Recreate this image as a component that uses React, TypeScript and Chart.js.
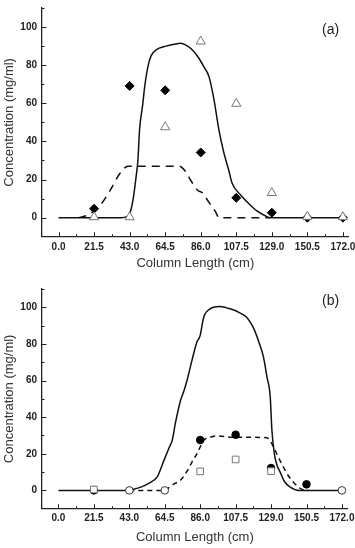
import React, { useEffect, useRef } from "react";
import { Chart, registerables } from "chart.js";
Chart.register(...registerables);

// ---- shared axis ticks ----
const xTicks = [0, 21.5, 43, 64.5, 86, 107.5, 129, 150.5, 172];
const xMinorTicks = [10.75, 32.25, 53.75, 75.25, 96.75, 118.25, 139.75, 161.25];
const yTicks = [0, 20, 40, 60, 80, 100];
const yMinorTicks = [10, 30, 50, 70, 90, 110];

// ---- panel (a) ----
const aSolidX = [0, 20, 38, 41, 43, 45, 47, 48, 49, 51, 52, 54, 56, 59, 65, 70, 74, 77, 81, 85, 88, 91, 94, 97, 100, 103, 105, 110, 115, 120, 125, 128, 150, 172];
const aSolidY = [0, 0, 0, 0.4, 2, 9, 22, 30, 46, 60, 68, 79, 85, 88, 90, 91, 91.5, 90.5, 88, 83.5, 79, 74, 62, 46, 34, 24.7, 18, 12, 7.4, 3.5, 1, 0, 0, 0];
const aDashX = [12, 18, 25, 31, 37, 42, 73, 77, 80, 84, 87, 91, 95, 97, 128];
const aDashY = [0, 1.5, 6.3, 14, 23, 27, 27, 24, 19.5, 14.5, 13, 8, 3, 0, 0];
const aDiamondX = [21.5, 43, 64.5, 86, 107.5, 129, 150.5, 172];
const aDiamondY = [4.7, 69.1, 66.8, 34.2, 10.4, 2.6, 0, 0];
const aTriangleX = [21.5, 43, 64.5, 86, 107.5, 129, 150.5, 172];
const aTriangleY = [0.3, 0.3, 47.5, 92.5, 59.8, 13, 0.5, 0.3];

// ---- panel (b) ----
const bSolidX = [0, 40, 45, 50, 55, 60, 64, 67, 69, 71, 74, 76, 78, 81, 84, 86, 87.5, 88.5, 91, 94, 98, 102, 106, 110, 114, 117, 119, 122, 124.4, 126.5, 128.5, 129.5, 131, 132.5, 134.5, 137, 140.6, 146, 172];
const bSolidY = [0, 0, 0.5, 1.8, 4, 7.5, 16.4, 23, 27.3, 37, 49, 54, 60, 71, 81, 84.7, 92, 95.6, 98.5, 100, 100.5, 99.7, 98.7, 97, 94.7, 91, 87.4, 80, 72.8, 62, 51, 33, 20, 14, 10, 5, 1.8, 0, 0];
const bDashX = [43, 64.5, 67, 70, 74, 78, 81, 84, 86, 88, 92, 96, 106, 116, 126.5, 128.5, 130.5, 133.5, 136.5, 139.5, 142.6, 146, 148, 152];
const bDashY = [0, 0, 1.5, 3.5, 5.5, 10.5, 15.5, 20, 23.7, 27.3, 29, 29.7, 29, 29, 28.8, 27, 23.7, 18, 12.7, 8, 4.5, 1.5, 0.5, 0];
const bFilledCircleX = [21.5, 86, 107.5, 129, 150.5];
const bFilledCircleY = [0, 27.5, 30.4, 12.2, 3.3];
const bSquareX = [21.5, 86, 107.5, 129];
const bSquareY = [0.5, 10.4, 16.9, 10.5];
const bOpenCircleX = [43, 64.5, 172];
const bOpenCircleY = [0, 0, 0];

const zip = (xs: number[], ys: number[]) => xs.map((x, i) => ({ x, y: ys[i] }));

const FONT = "'Liberation Sans', Arial, sans-serif";

const inwardTicks = {
  id: "inwardTicks",
  afterDraw(chart: any) {
    const { ctx, chartArea, scales } = chart;
    const x = scales.x;
    const y = scales.y;
    ctx.save();
    ctx.strokeStyle = "#222";
    ctx.lineWidth = 1;
    const seg = (x1: number, y1: number, x2: number, y2: number) => {
      ctx.beginPath();
      ctx.moveTo(x1, y1);
      ctx.lineTo(x2, y2);
      ctx.stroke();
    };
    const b = chartArea.bottom;
    const l = chartArea.left;
    xTicks.forEach((v) => {
      const p = Math.round(x.getPixelForValue(v)) + 0.5;
      seg(p, b, p, b - 4.5);
    });
    xMinorTicks.forEach((v) => {
      const p = Math.round(x.getPixelForValue(v)) + 0.5;
      seg(p, b, p, b - 2.5);
    });
    yTicks.forEach((v) => {
      const p = Math.round(y.getPixelForValue(v)) + 0.5;
      seg(l, p, l + 4.5, p);
    });
    yMinorTicks.forEach((v) => {
      const p = Math.round(y.getPixelForValue(v)) + 0.5;
      seg(l, p, l + 2.5, p);
    });
    ctx.restore();
  },
};

function makeOptions(pad: { top: number; right: number }, xAxisHeight: number, xLabelPad: number) {
  return {
    animation: false,
    responsive: false,
    layout: { padding: { top: pad.top, right: pad.right, left: 0, bottom: 0 } },
    plugins: { legend: { display: false }, tooltip: { enabled: false } },
    scales: {
      x: {
        type: "linear",
        min: -10,
        max: 175.5,
        afterBuildTicks: (s: any) => {
          s.ticks = xTicks.map((v) => ({ value: v }));
        },
        afterFit: (s: any) => {
          s.height = xAxisHeight;
          s.paddingLeft = 0;
          s.paddingRight = 0;
        },
        ticks: {
          autoSkip: false,
          maxRotation: 0,
          padding: xLabelPad,
          color: "#222",
          font: { family: FONT, size: 10, weight: "bold" },
          callback: (v: any) => Number(v).toFixed(1),
        },
        grid: { drawOnChartArea: false, drawTicks: false },
        border: { display: true, color: "#222", width: 1.3 },
        title: {
          display: true,
          text: "Column Length (cm)",
          color: "#333",
          font: { family: FONT, size: 13 },
          padding: { top: 0, bottom: 3 },
        },
      },
      y: {
        type: "linear",
        min: -10,
        max: 110,
        afterBuildTicks: (s: any) => {
          s.ticks = yTicks.map((v) => ({ value: v }));
        },
        afterFit: (s: any) => {
          s.width = 42;
          s.paddingTop = 0;
          s.paddingBottom = 0;
        },
        ticks: {
          padding: 5,
          color: "#222",
          font: { family: FONT, size: 10, weight: "bold" },
          callback: (v: any) => String(v),
        },
        grid: { drawOnChartArea: false, drawTicks: false },
        border: { display: true, color: "#222", width: 1.3 },
        title: {
          display: true,
          text: "Concentration (mg/ml)",
          color: "#333",
          font: { family: FONT, size: 13 },
          padding: { top: 2, bottom: 0 },
        },
      },
    },
  };
}

const lineDs = (data: any[], dash: number[], order: number) => ({
  type: "line",
  data,
  showLine: true,
  borderColor: "#111",
  borderWidth: 1.5,
  borderDash: dash,
  pointRadius: 0,
  cubicInterpolationMode: "monotone",
  fill: false,
  order,
});

const ptDs = (data: any[], style: string, radius: number, bg: string, border: string, order: number) => ({
  type: "scatter",
  data,
  showLine: false,
  pointStyle: style,
  pointRadius: radius,
  pointBackgroundColor: bg,
  pointBorderColor: border,
  pointBorderWidth: 1,
  order,
});

function Panel({ datasets, options, label, labelTop }: any) {
  const ref = useRef<HTMLCanvasElement | null>(null);
  useEffect(() => {
    if (!ref.current) return;
    const chart = new Chart(ref.current, {
      type: "scatter",
      data: { datasets },
      options,
      plugins: [inwardTicks],
    } as any);
    return () => chart.destroy();
  }, []);
  return (
    <div style={{ position: "relative", width: 355, height: 274 }}>
      <canvas ref={ref} width={355} height={274} style={{ display: "block" }} />
      <div
        style={{
          position: "absolute",
          left: 322,
          top: labelTop,
          fontFamily: FONT,
          fontSize: 14,
          color: "#222",
          lineHeight: "16px",
        }}
      >
        {label}
      </div>
    </div>
  );
}

export default function App() {
  useEffect(() => {
    document.body.style.margin = "0";
  }, []);

  const aSets = [
    ptDs(zip(aTriangleX, aTriangleY), "triangle", 5.3, "#fff", "#777", 0),
    ptDs(zip(aDiamondX, aDiamondY), "rectRot", 4.5, "#000", "#000", 1),
    lineDs(zip(aSolidX, aSolidY), [], 2),
    lineDs(zip(aDashX, aDashY), [8, 6], 3),
  ];
  const bSets = [
    ptDs(zip(bOpenCircleX, bOpenCircleY), "circle", 3.8, "#fff", "#333", 0),
    ptDs(zip(bSquareX, bSquareY), "rect", 4.7, "#fff", "#777", 1),
    ptDs(zip(bFilledCircleX, bFilledCircleY), "circle", 3.8, "#000", "#000", 2),
    lineDs(zip(bSolidX, bSolidY), [], 3),
    lineDs(zip(bDashX, bDashY), [5, 4], 4),
  ];

  return (
    <div style={{ width: 355, height: 548, background: "#fff" }}>
      <Panel datasets={aSets} options={makeOptions({ top: 8, right: 4 }, 37.3, 5)} label="(a)" labelTop={21} />
      <Panel datasets={bSets} options={makeOptions({ top: 15, right: 7.3 }, 39.3, 4)} label="(b)" labelTop={18} />
    </div>
  );
}
